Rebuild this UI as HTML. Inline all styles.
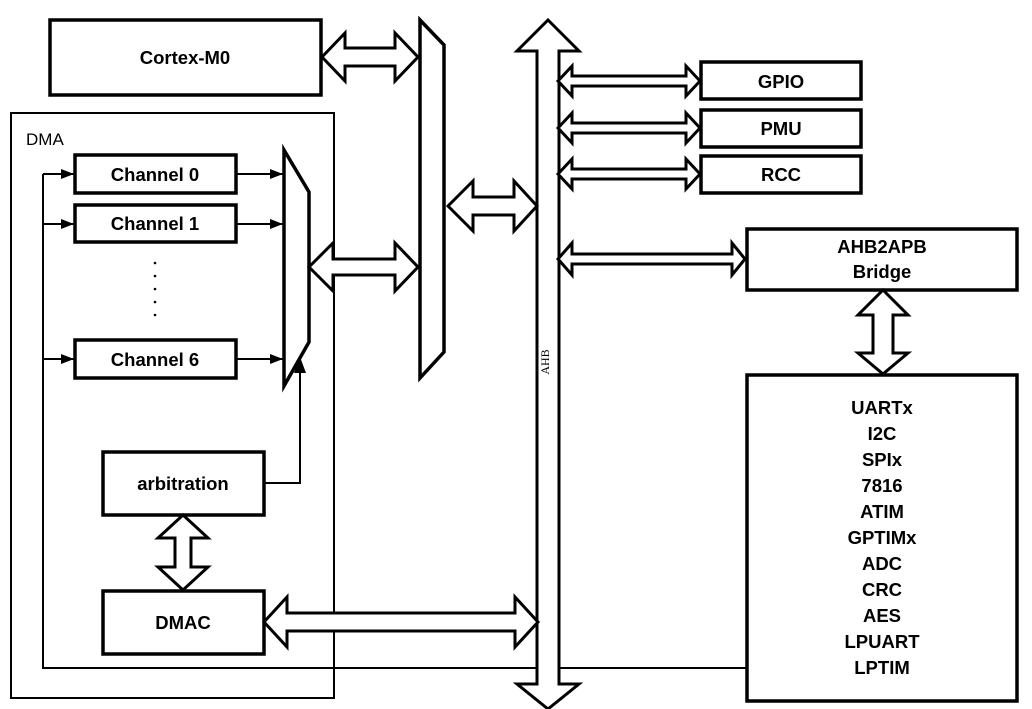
<!DOCTYPE html>
<html><head><meta charset="utf-8"><style>
html,body{margin:0;padding:0;background:#fff;}
svg{display:block;}
.b{font-family:"Liberation Sans",Arial,sans-serif;font-weight:bold;font-size:18.5px;fill:#000;}
</style></head><body>
<svg width="1032" height="709" viewBox="0 0 1032 709" xmlns="http://www.w3.org/2000/svg">
<defs>
<marker id="ah" markerWidth="13" markerHeight="10" refX="13" refY="5" orient="auto" markerUnits="userSpaceOnUse">
<path d="M0,0 L13,5 L0,10 Z" fill="#000"/>
</marker>
</defs>
<g fill="#fff" stroke="#000">
<rect x="11" y="113" width="323" height="585" stroke-width="2"/>
</g>
<text x="26" y="145" font-family="Liberation Sans,sans-serif" font-size="17">DMA</text>

<polyline points="747,668 43,668 43,174" fill="none" stroke="#000" stroke-width="2"/>
<g stroke="#000" stroke-width="2" marker-end="url(#ah)">
<line x1="43" y1="174" x2="74" y2="174"/>
<line x1="43" y1="224" x2="74" y2="224"/>
<line x1="43" y1="359" x2="74" y2="359"/>
<line x1="237" y1="174" x2="283" y2="174"/>
<line x1="237" y1="224" x2="283" y2="224"/>
<line x1="237" y1="359" x2="283" y2="359"/>
</g>
<polyline points="264,483 300,483 300,372" fill="none" stroke="#000" stroke-width="2"/>
<path d="M294,373 L300,357 L306,373 Z" fill="#000"/>

<g fill="#fff" stroke="#000" stroke-width="3.5">
<rect x="50" y="20" width="271" height="75"/>
<rect x="75" y="155" width="161" height="38"/>
<rect x="75" y="205" width="161" height="37"/>
<rect x="75" y="340" width="161" height="38"/>
<rect x="103" y="452" width="161" height="63"/>
<rect x="103" y="591" width="161" height="63"/>
<rect x="701" y="62" width="160" height="37"/>
<rect x="701" y="110" width="160" height="37"/>
<rect x="701" y="156" width="160" height="37"/>
<rect x="747" y="229" width="270" height="61"/>
<rect x="747" y="375" width="270" height="326"/>
<polygon points="284,150 309,192 309,342 284,386"/>
<polygon points="420,20 444,45 444,352 420,378"/>
</g>

<g fill="#fff" stroke="#000" stroke-width="3" stroke-linejoin="miter">
<polygon points="548,20 579,51 559,51 559,684 579,684 548,709 517,684 537,684 537,51 517,51"/>
<polygon points="322,57 345,33 345,48 395,48 395,33 418,57 395,81 395,66 345,66 345,81"/>
<polygon points="448,206 473,181 473,197 514,197 514,181 537,206 514,231 514,215 473,215 473,231"/>
<polygon points="309,267 333,243 333,259 395,259 395,243 418,267 395,291 395,275 333,275 333,291"/>
<polygon points="264,622 287,597 287,613 515,613 515,597 538,622 515,647 515,631 287,631 287,647"/>
<polygon points="558,81 572,66 572,76 686,76 686,66 700,81 686,96 686,86 572,86 572,96"/>
<polygon points="558,128 572,113 572,123 686,123 686,113 700,128 686,143 686,133 572,133 572,143"/>
<polygon points="558,174 572,159 572,169 686,169 686,159 700,174 686,189 686,179 572,179 572,189"/>
<polygon points="558,259 572,243 572,254 732,254 732,243 745,259 732,275 732,264 572,264 572,275"/>
<polygon points="183,515 208,538 191,538 191,567 208,567 183,590 158,567 175,567 175,538 158,538"/>
<polygon points="883,290 908,315 893,315 893,353 908,353 883,374 858,353 873,353 873,315 858,315"/>
</g>

<text x="553" y="366" font-family="Liberation Serif,serif" font-size="12" text-anchor="middle" transform="rotate(-90 549 366)">AHB</text>

<g fill="#000">
<circle cx="155" cy="263" r="1.3"/><circle cx="155" cy="276" r="1.3"/><circle cx="155" cy="289" r="1.3"/><circle cx="155" cy="302" r="1.3"/><circle cx="155" cy="315" r="1.3"/>
</g>

<g class="b" text-anchor="middle">
<text x="185" y="64" class="b">Cortex-M0</text>
<text x="155" y="181" class="b">Channel 0</text>
<text x="155" y="230" class="b">Channel 1</text>
<text x="155" y="366" class="b">Channel 6</text>
<text x="183" y="490" class="b">arbitration</text>
<text x="183" y="629" class="b">DMAC</text>
<text x="781" y="88" class="b">GPIO</text>
<text x="781" y="135" class="b">PMU</text>
<text x="781" y="181" class="b">RCC</text>
<text x="882" y="253" class="b">AHB2APB</text>
<text x="882" y="278" class="b">Bridge</text>
<text x="882" y="414" class="b">UARTx</text>
<text x="882" y="440" class="b">I2C</text>
<text x="882" y="466" class="b">SPIx</text>
<text x="882" y="492" class="b">7816</text>
<text x="882" y="518" class="b">ATIM</text>
<text x="882" y="544" class="b">GPTIMx</text>
<text x="882" y="570" class="b">ADC</text>
<text x="882" y="596" class="b">CRC</text>
<text x="882" y="622" class="b">AES</text>
<text x="882" y="648" class="b">LPUART</text>
<text x="882" y="674" class="b">LPTIM</text>
</g>
</svg>
</body></html>
